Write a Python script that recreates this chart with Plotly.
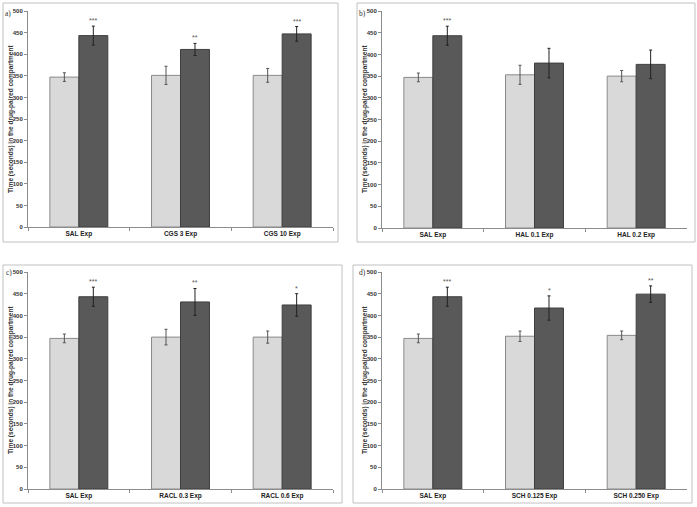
import plotly.graph_objects as go

W, H = 697, 507

# ---- data ----
cats_a = ["SAL Exp", "CGS 3 Exp", "CGS 10 Exp"]
light_a = [347, 351, 351]
light_err_a = [10, 21, 16]
dark_a = [443, 411, 447]
dark_err_a = [22, 14, 17]
stars_a = ["***", "**", "***"]

cats_b = ["SAL Exp", "HAL 0.1 Exp", "HAL 0.2 Exp"]
light_b = [347, 353, 350]
light_err_b = [10, 22, 13]
dark_b = [443, 380, 377]
dark_err_b = [22, 34, 33]
stars_b = ["***", "", ""]

cats_c = ["SAL Exp", "RACL 0.3 Exp", "RACL 0.6 Exp"]
light_c = [347, 350, 350]
light_err_c = [10, 18, 14]
dark_c = [443, 431, 424]
dark_err_c = [22, 31, 26]
stars_c = ["***", "**", "*"]

cats_d = ["SAL Exp", "SCH 0.125 Exp", "SCH 0.250 Exp"]
light_d = [347, 352, 354]
light_err_d = [10, 12, 10]
dark_d = [443, 417, 449]
dark_err_d = [22, 28, 19]
stars_d = ["***", "*", "**"]

panel_labels = ["a)", "b)", "c)", "d)"]
y_title = "Time (seconds) in the drug-paired compartment"
y_ticks = [0, 50, 100, 150, 200, 250, 300, 350, 400, 450, 500]

panels = [
    (cats_a, light_a, light_err_a, dark_a, dark_err_a, stars_a),
    (cats_b, light_b, light_err_b, dark_b, dark_err_b, stars_b),
    (cats_c, light_c, light_err_c, dark_c, dark_err_c, stars_c),
    (cats_d, light_d, light_err_d, dark_d, dark_err_d, stars_d),
]

# ---- layout geometry (pixels) ----
plot_px = [(28, 333, 11, 227), (382, 687, 11, 228), (28, 333, 272, 489), (382, 687, 272, 489)]
border_px = [(3, 338, 3, 242), (357, 695, 3, 242), (3, 342, 265, 503), (353, 692, 265, 503)]
label_px = [(8, 13), (362, 13), (9, 272), (363, 272)]
ytitle_px = [(11, 119), (365, 119), (11, 380), (365, 380)]

def px_x(x):
    return x / W

def px_y(y):
    return 1 - y / H

fig = go.Figure()
annotations = []
shapes = []

tick_font = dict(family="Liberation Sans, Arial, sans-serif", size=6, color="#333333")

for i, (cats, lv, le, dv, de, st) in enumerate(panels):
    n = i + 1
    xa = "x" if n == 1 else f"x{n}"
    ya = "y" if n == 1 else f"y{n}"
    fig.add_trace(go.Bar(
        x=cats, y=lv, xaxis=xa, yaxis=ya,
        marker=dict(color="#d9d9d9", line=dict(color="#8a8a8a", width=1)),
        error_y=dict(type="data", array=le, color="#555555", thickness=1, width=1.5),
        showlegend=False,
    ))
    fig.add_trace(go.Bar(
        x=cats, y=dv, xaxis=xa, yaxis=ya,
        marker=dict(color="#595959", line=dict(color="#3f3f3f", width=1)),
        error_y=dict(type="data", array=de, color="#222222", thickness=1, width=1.5),
        showlegend=False,
    ))
    x0, x1, y0, y1 = plot_px[i]
    xkey = "xaxis" if n == 1 else f"xaxis{n}"
    ykey = "yaxis" if n == 1 else f"yaxis{n}"
    fig.layout[xkey] = dict(
        domain=[px_x(x0), px_x(x1)], anchor=ya, type="category",
        tickvals=cats, ticktext=[f"<b>{c}</b>" for c in cats],
        showline=True, linecolor="#8c8c8c", linewidth=1,
        ticks="outside", tickson="boundaries", ticklen=3, tickcolor="#8c8c8c",
        showgrid=False, zeroline=False, automargin=False,
        tickfont=dict(family="Liberation Sans, Arial, sans-serif", size=6.5, color="#222222"),
    )
    fig.layout[ykey] = dict(
        domain=[px_y(y1), px_y(y0)], anchor=xa, range=[0, 500],
        tickvals=y_ticks, ticktext=[f"<b>{v}</b>" for v in y_ticks],
        showline=True, linecolor="#8c8c8c", linewidth=1,
        ticks="outside", ticklen=3, tickcolor="#8c8c8c", automargin=False,
        showgrid=False, zeroline=False, tickfont=tick_font,
    )
    # significance stars above dark bars
    for c, v, e, s in zip(cats, dv, de, st):
        if s:
            annotations.append(dict(
                x=c, y=v + e, xref=xa, yref=ya, text=s, showarrow=False,
                xshift=14.5, yanchor="bottom", yshift=0,
                font=dict(family="Liberation Sans, Arial, sans-serif", size=7, color="#555555"),
            ))
    # panel border
    bx0, bx1, by0, by1 = border_px[i]
    shapes.append(dict(type="rect", xref="paper", yref="paper",
                       x0=px_x(bx0), x1=px_x(bx1), y0=px_y(by1), y1=px_y(by0),
                       line=dict(color="#c0c0c0", width=1), fillcolor="rgba(0,0,0,0)"))
    # panel label
    lx, ly = label_px[i]
    annotations.append(dict(x=px_x(lx), y=px_y(ly), xref="paper", yref="paper",
                            text=panel_labels[i], showarrow=False,
                            xanchor="center", yanchor="middle",
                            font=dict(family="Liberation Serif, Times New Roman, serif", size=7.5, color="#333333")))
    # y title
    tx, ty = ytitle_px[i]
    annotations.append(dict(x=px_x(tx), y=px_y(ty), xref="paper", yref="paper",
                            text=f"<b>{y_title}</b>", showarrow=False, textangle=-90,
                            xanchor="center", yanchor="middle",
                            font=dict(family="Liberation Sans, Arial, sans-serif", size=6.5, color="#333333")))

fig.update_layout(
    width=W, height=H, margin=dict(l=0, r=0, t=0, b=0),
    paper_bgcolor="white", plot_bgcolor="white",
    barmode="group", bargap=0.43, bargroupgap=0,
    annotations=annotations, shapes=shapes,
)

fig.write_html("out.html", config={"displayModeBar": False},
               post_script="document.body.style.margin='0px';document.body.style.padding='0px';")
